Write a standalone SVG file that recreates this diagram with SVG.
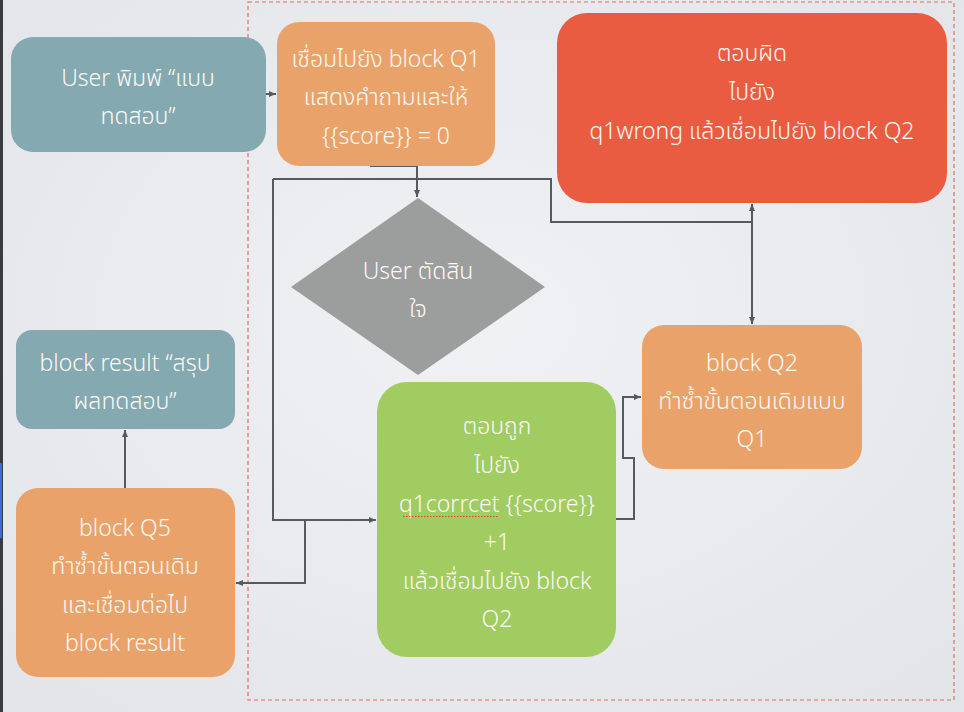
<svg xmlns="http://www.w3.org/2000/svg" width="964" height="712" viewBox="0 0 964 712">
<defs>
<radialGradient id="bg" cx="0.5" cy="0.45" r="0.75">
<stop offset="0" stop-color="#f0f1f3"/>
<stop offset="1" stop-color="#e2e4e8"/>
</radialGradient>
<marker id="ah" markerWidth="8" markerHeight="8" refX="7" refY="4" orient="auto" markerUnits="userSpaceOnUse">
<path d="M0,1 L7,4 L0,7 Z" fill="#555a5c"/>
</marker>
</defs>
<style>
.t{font-family:"Noto Sans Thai","Lato","Open Sans","Noto Sans",sans-serif;font-size:23px;font-weight:300;fill:#fdf9f4;text-anchor:middle}
.teal{fill:#84a9b0}
.org{fill:#e9a36a}
.red{fill:#e95c42}
.grn{fill:#a0cc62}
.dia{fill:#9b9e9d}
.c{fill:none;stroke:#555a5c;stroke-width:2}
</style>
<rect width="964" height="712" fill="url(#bg)"/>
<rect x="0" y="0" width="3" height="712" fill="#3a3b3d"/>
<rect x="0" y="463" width="2" height="75" fill="#3b6fd6"/>
<rect x="248" y="2" width="706" height="698" fill="none" stroke="#e66a5a" stroke-width="1.2" stroke-dasharray="4,3"/>

<g id="connectors">
<path class="c" d="M266,94 L276,94" marker-end="url(#ah)"/>
<path class="c" d="M370,166 L417,166 L417,197" marker-end="url(#ah)"/>
<path class="c" d="M273,179 L551,179 L551,222 L752,222"/>
<path class="c" d="M752,222 L752,204" marker-end="url(#ah)"/>
<path class="c" d="M752,222 L752,324" marker-end="url(#ah)"/>
<path class="c" d="M273,179 L273,520 L376,520" marker-end="url(#ah)"/>
<path class="c" d="M305,520 L305,583 L236,583" marker-end="url(#ah)"/>
<path class="c" d="M616,519 L634,519 L634,458 L623,458 L623,397 L641,397" marker-end="url(#ah)"/>
<path class="c" d="M125,488 L125,430" marker-end="url(#ah)"/>
</g>

<g id="user">
<rect class="teal" x="11" y="37" width="255" height="115" rx="22"/>
<text class="t" x="138" y="86">User พิมพ์ “แบบ</text>
<text class="t" x="138" y="124">ทดสอบ”</text>
</g>

<g id="q1">
<rect class="org" x="277" y="22" width="218" height="144" rx="22"/>
<text class="t" x="386" y="67">เชื่อมไปยัง block Q1</text>
<text class="t" x="386" y="105">แสดงคำถามและให้</text>
<text class="t" x="386" y="144">{{score}} = 0</text>
</g>

<g id="wrong">
<rect class="red" x="557" y="13" width="390" height="190" rx="30"/>
<text class="t" x="752" y="61">ตอบผิด</text>
<text class="t" x="752" y="100">ไปยัง</text>
<text class="t" x="752" y="139">q1wrong แล้วเชื่อมไปยัง block Q2</text>
</g>

<g id="decision">
<polygon class="dia" points="418,198 545,287 418,375 291,287"/>
<text class="t" x="418" y="279">User ตัดสิน</text>
<text class="t" x="418" y="317">ใจ</text>
</g>

<g id="correct">
<rect class="grn" x="377" y="382" width="239" height="275" rx="30"/>
<text class="t" x="497" y="434">ตอบถูก</text>
<text class="t" x="497" y="473">ไปยัง</text>
<text class="t" x="497" y="512">q1corrcet {{score}}</text>
<path d="M403,516.5 L499,516.5" stroke="#d9463a" stroke-width="1.2" stroke-dasharray="1.5,1.5" fill="none"/>
<text class="t" x="497" y="550">+1</text>
<text class="t" x="497" y="589">แล้วเชื่อมไปยัง block</text>
<text class="t" x="497" y="627">Q2</text>
</g>

<g id="q2">
<rect class="org" x="642" y="325" width="220" height="144" rx="22"/>
<text class="t" x="752" y="371">block Q2</text>
<text class="t" x="752" y="409">ทำซ้ำขั้นตอนเดิมแบบ</text>
<text class="t" x="752" y="447">Q1</text>
</g>

<g id="result">
<rect class="teal" x="16" y="330" width="219" height="99" rx="16"/>
<text class="t" x="125" y="371">block result “สรุป</text>
<text class="t" x="125" y="409">ผลทดสอบ”</text>
</g>

<g id="q5">
<rect class="org" x="16" y="488" width="219" height="189" rx="22"/>
<text class="t" x="125" y="536">block Q5</text>
<text class="t" x="125" y="574">ทำซ้ำขั้นตอนเดิม</text>
<text class="t" x="125" y="613">และเชื่อมต่อไป</text>
<text class="t" x="125" y="651">block result</text>
</g>
</svg>
